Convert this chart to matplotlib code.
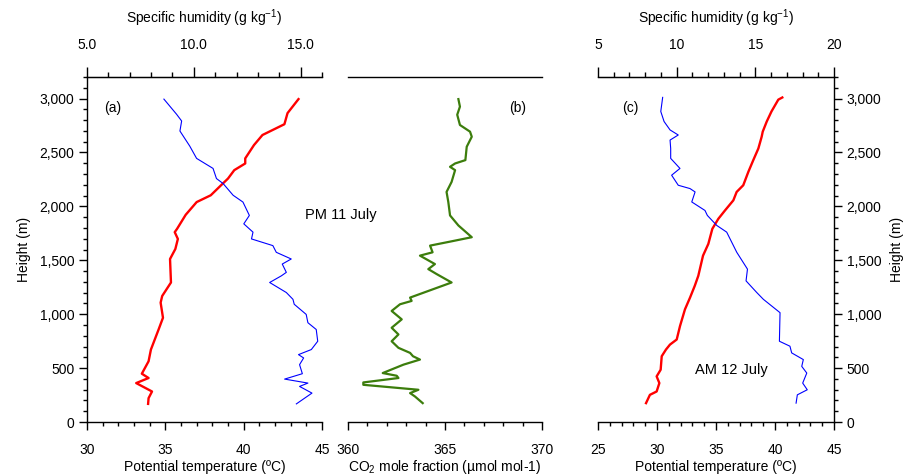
import numpy as np
import matplotlib.pyplot as plt
from matplotlib.ticker import MultipleLocator, FuncFormatter

plt.rcParams['font.family'] = ['Liberation Sans', 'DejaVu Sans']
plt.rcParams['font.size'] = 10

# (a) PM 11 July
pm_temp_h = [2995, 2865, 2762, 2662, 2569, 2445, 2398, 2336, 2258, 2202, 2103, 2040, 1922,
             1792, 1761, 1698, 1605, 1512, 1294, 1169, 1107, 967, 858, 672, 563, 448, 408,
             361, 283, 221, 168]
pm_temp = [43.5, 42.8, 42.6, 41.2, 40.66, 40.1, 40.1, 39.4, 39.0, 38.6, 37.9, 37.0, 36.3,
           35.75, 35.6, 35.8, 35.64, 35.3, 35.36, 34.8, 34.7, 34.85, 34.57, 34.08, 33.93,
           33.5, 33.93, 33.14, 34.15, 33.93, 33.9]
pm_q_h = [2995, 2855, 2792, 2699, 2559, 2445, 2352, 2258, 2212, 2103, 2040, 1916, 1838, 1761,
          1698, 1636, 1574, 1512, 1465, 1388, 1356, 1294, 1201, 1138, 1092, 998, 921, 858,
          749, 672, 625, 594, 532, 448, 398, 361, 330, 268, 168]
pm_q = [8.6, 9.19, 9.43, 9.35, 9.81, 10.13, 10.9, 11.06, 11.37, 11.84, 12.3, 12.6, 12.34,
        12.77, 12.7, 13.7, 13.86, 14.56, 14.14, 14.33, 14.1, 13.55, 14.33, 14.64, 14.7,
        15.26, 15.34, 15.73, 15.8, 15.5, 14.9, 15.14, 14.95, 15.08, 14.25, 15.34, 14.95,
        15.53, 14.8]

# (b) CO2 PM 11 July
co2_h = [2995, 2925, 2850, 2755, 2693, 2646, 2553, 2429, 2398, 2367, 2336, 2227, 2134, 2041,
         1916, 1823, 1714, 1673, 1636, 1574, 1543, 1465, 1418, 1372, 1294, 1154, 1123, 1092,
         1030, 952, 874, 812, 749, 688, 641, 610, 579, 532, 454, 429, 408, 367, 345, 299,
         268, 237, 175]
co2 = [365.69, 365.77, 365.63, 365.77, 366.29, 366.38, 366.12, 366.05, 365.52, 365.26,
       365.52, 365.34, 365.08, 365.17, 365.26, 365.69, 366.38, 365.26, 364.23, 364.36,
       363.71, 364.48, 364.14, 364.57, 365.34, 363.2, 363.28, 362.68, 362.25, 362.77,
       362.25, 362.6, 362.25, 362.6, 363.2, 363.35, 363.71, 362.86, 361.79, 362.51, 362.6,
       360.79, 360.79, 363.63, 363.2, 363.45, 363.85]

# (c) AM 12 July
am_temp_h = [3010, 2990, 2880, 2787, 2693, 2646, 2537, 2429, 2320, 2196, 2134, 2056, 1962,
             1885, 1792, 1652, 1543, 1356, 1263, 1154, 1045, 890, 765, 718, 672, 610, 485,
             423, 361, 283, 252, 175]
am_temp = [40.62, 40.28, 39.7, 39.3, 38.96, 38.87, 38.59, 38.16, 37.74, 37.31, 36.75, 36.47,
           35.76, 35.2, 34.69, 34.35, 33.9, 33.5, 33.2, 32.8, 32.37, 31.95, 31.67, 31.1,
           30.76, 30.4, 30.31, 29.97, 30.2, 29.97, 29.4, 29.07]
am_q_h = [3011, 2880, 2787, 2709, 2662, 2615, 2537, 2445, 2352, 2289, 2196, 2165, 2134, 2041,
          1962, 1916, 1823, 1761, 1574, 1418, 1309, 1201, 1138, 1014, 749, 703, 641, 579,
          516, 454, 361, 299, 252, 175]
am_q = [9.11, 8.99, 9.2, 9.58, 10.1, 9.58, 9.62, 9.62, 10.21, 9.68, 10.1, 10.85, 11.17,
        10.96, 11.8, 11.95, 12.55, 13.18, 13.82, 14.5, 14.41, 15.09, 15.51, 16.57, 16.53,
        17.2, 17.31, 18.05, 17.95, 18.27, 18.01, 18.3, 17.67, 17.59]

W, H = 909, 476
fig = plt.figure(figsize=(W / 100, H / 100), dpi=100)

def box(x0, x1, y0=77, y1=422):
    return [x0 / W, 1 - y1 / H, (x1 - x0) / W, (y1 - y0) / H]

comma = FuncFormatter(lambda v, p: f"{v:,.0f}")
RED_LW, BLUE_LW = 1.7, 0.8

def style_base(ax):
    ax.set_ylim(0, 3200)
    ax.yaxis.set_major_locator(MultipleLocator(500))
    ax.yaxis.set_minor_locator(MultipleLocator(100))
    ax.yaxis.set_major_formatter(comma)
    ax.xaxis.set_minor_locator(MultipleLocator(1))
    ax.tick_params(which='major', direction='out', length=6, width=1)
    ax.tick_params(which='minor', direction='out', length=3, width=1)
    ax.tick_params(axis='x', pad=9)
    ax.tick_params(axis='y', pad=3)
    for s in ax.spines.values():
        s.set_linewidth(1)

# panel a
ax1 = fig.add_axes(box(87, 322))
style_base(ax1)
ax1.set_xlim(30, 45)
ax1.xaxis.set_major_locator(MultipleLocator(5))
ax1.spines['right'].set_visible(False)
ax1.plot(pm_temp, pm_temp_h, color='red', lw=RED_LW)
ax1.set_xlabel('Potential temperature (ºC)', labelpad=2)
ax1.set_ylabel('Height (m)', labelpad=6)
ax1.text(113 / W, 1 - 108 / H, '(a)', transform=fig.transFigure, ha='center', va='center')

ax1t = ax1.twiny()
ax1t.set_xlim(5, 16)
ax1t.xaxis.set_major_locator(MultipleLocator(5))
ax1t.xaxis.set_minor_locator(MultipleLocator(1))
ax1t.xaxis.set_major_formatter(FuncFormatter(lambda v, p: f"{v:.1f}"))
ax1t.tick_params(which='major', direction='out', length=7, width=1, pad=11)
ax1t.tick_params(which='minor', direction='out', length=3.5, width=1)
for s in ['right', 'bottom', 'left']:
    ax1t.spines[s].set_visible(False)
ax1t.plot(pm_q, pm_q_h, color='blue', lw=BLUE_LW)
ax1t.set_xlabel('Specific humidity (g kg$^{\\mathregular{-1}}$)', labelpad=11)

# panel b
ax2 = fig.add_axes(box(348, 542))
style_base(ax2)
ax2.set_xlim(360, 370)
ax2.xaxis.set_major_locator(MultipleLocator(5))
ax2.spines['left'].set_visible(False)
ax2.spines['right'].set_visible(False)
ax2.tick_params(axis='y', which='both', left=False, labelleft=False)
ax2.plot(co2, co2_h, color='#3c7d0c', lw=1.6)
ax2.set_xlabel('CO$_{\\mathregular{2}}$ mole fraction (µmol mol-1)', labelpad=1)
ax2.text(518 / W, 1 - 108 / H, '(b)', transform=fig.transFigure, ha='center', va='center')

# panel c
ax3 = fig.add_axes(box(598, 834))
style_base(ax3)
ax3.set_xlim(25, 45)
ax3.xaxis.set_major_locator(MultipleLocator(5))
ax3.spines['left'].set_visible(False)
ax3.yaxis.tick_right()
ax3.yaxis.set_label_position('right')
ax3.tick_params(axis='y', which='both', left=False, right=True, labelleft=False, labelright=True)
ax3.plot(am_temp, am_temp_h, color='red', lw=RED_LW)
ax3.set_xlabel('Potential temperature (ºC)', labelpad=2)
ax3.set_ylabel('Height (m)', labelpad=6)
ax3.text(630 / W, 1 - 108 / H, '(c)', transform=fig.transFigure, ha='center', va='center')

ax3t = ax3.twiny()
ax3t.set_xlim(5, 20)
ax3t.xaxis.set_major_locator(MultipleLocator(5))
ax3t.xaxis.set_minor_locator(MultipleLocator(1))
ax3t.tick_params(which='major', direction='out', length=7, width=1, pad=11)
ax3t.tick_params(which='minor', direction='out', length=3.5, width=1)
for s in ['right', 'bottom', 'left']:
    ax3t.spines[s].set_visible(False)
ax3t.plot(am_q, am_q_h, color='blue', lw=BLUE_LW)
ax3t.set_xlabel('Specific humidity (g kg$^{\\mathregular{-1}}$)', labelpad=11)

fig.text(341 / W, 1 - 215 / H, 'PM 11 July', ha='center', va='center', fontsize=10.5)
fig.text(731 / W, 1 - 370 / H, 'AM 12 July', ha='center', va='center', fontsize=10.5)

fig.savefig('out.png', dpi=100)
